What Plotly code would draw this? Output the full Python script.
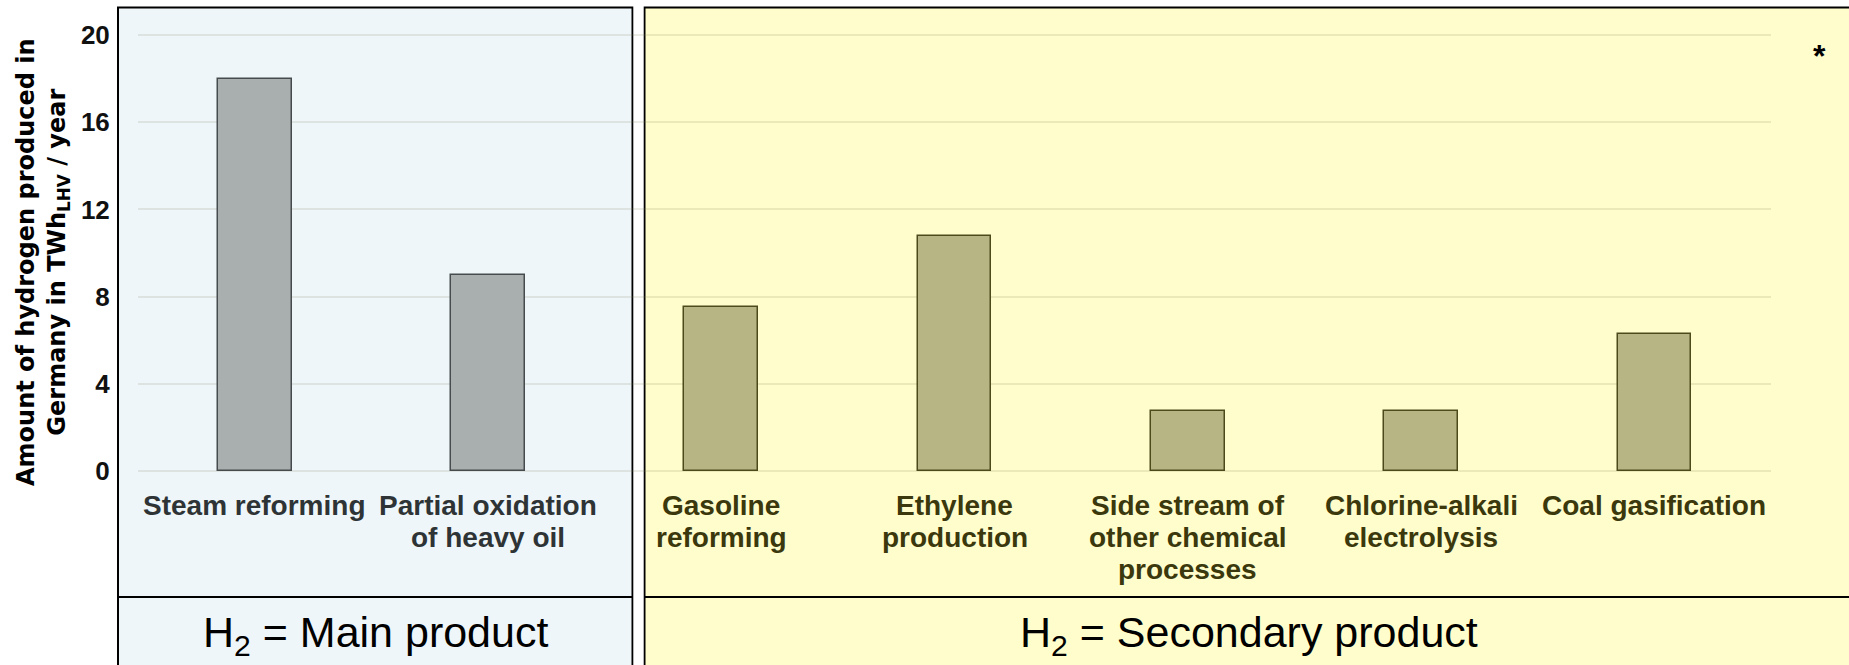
import plotly.graph_objects as go

# ---------------- data ----------------
categories = [
    "Steam reforming",
    "Partial oxidation of heavy oil",
    "Gasoline reforming",
    "Ethylene production",
    "Side stream of other chemical processes",
    "Chlorine-alkali electrolysis",
    "Coal gasification",
]
label_lines = [
    ["Steam reforming"],
    ["Partial oxidation", "of heavy oil"],
    ["Gasoline", "reforming"],
    ["Ethylene", "production"],
    ["Side stream of", "other chemical", "processes"],
    ["Chlorine-alkali", "electrolysis"],
    ["Coal gasification"],
]
values = [18.0, 9.0, 7.5, 10.8, 2.75, 2.75, 6.3]
groups = ["main", "main", "secondary", "secondary", "secondary", "secondary", "secondary"]
y_ticks = [0, 4, 8, 12, 16, 20]
group_titles = {"main": "H<sub>2</sub> = Main product",
                "secondary": "H<sub>2</sub> = Secondary product"}

# ---------------- styles ----------------
W, H = 1849, 665
ML, MR, MT, MB = 138, 78, 33, 192
PW, PH = W - ML - MR, H - MT - MB

def px(X):
    return (X - ML) / PW

def py(Y):
    return (H - MB - Y) / PH

fill = {"main": "#A9AEAF", "secondary": "#B8B585"}
edge = {"main": "#464C4D", "secondary": "#4C4A1C"}
txtc = {"main": "#2E3436", "secondary": "#3A380C"}
bg = {"main": "#EFF6F9", "secondary": "#FFFDCB"}
BOLD = "Liberation Sans, Arial, sans-serif"

fig = go.Figure()
fig.add_trace(go.Bar(
    x=categories, y=values, width=0.316,
    marker=dict(color=[fill[g] for g in groups],
                line=dict(color=[edge[g] for g in groups], width=1.5)),
    hoverinfo="x+y", showlegend=False,
))

shapes = []
shapes.append(dict(type="rect", xref="paper", yref="paper", layer="below",
                   x0=px(118), x1=px(632.5), y0=py(680), y1=py(7.5),
                   fillcolor=bg["main"], line=dict(color="black", width=2)))
shapes.append(dict(type="rect", xref="paper", yref="paper", layer="below",
                   x0=px(644.5), x1=px(1860), y0=py(680), y1=py(7.5),
                   fillcolor=bg["secondary"], line=dict(color="black", width=2)))
shapes.append(dict(type="line", xref="paper", yref="paper", layer="above",
                   x0=px(118), x1=px(632.5), y0=py(597), y1=py(597),
                   line=dict(color="black", width=2)))
shapes.append(dict(type="line", xref="paper", yref="paper", layer="above",
                   x0=px(644.5), x1=px(1860), y0=py(597), y1=py(597),
                   line=dict(color="black", width=2)))
shapes.append(dict(type="rect", xref="paper", yref="paper", layer="between",
                   x0=px(633.6), x1=px(643.4), y0=py(680), y1=py(6),
                   fillcolor="white", line=dict(width=0)))

annotations = []
for cat, lines, g in zip(categories, label_lines, groups):
    for k, t in enumerate(lines):
        annotations.append(dict(
            x=cat, xref="x", y=py(505 + 32 * k), yref="paper",
            yanchor="middle", xanchor="center", text=t, showarrow=False,
            font=dict(family=BOLD, size=28, color=txtc[g], weight="bold")))

annotations.append(dict(x=px(375.3), y=py(635), xref="paper", yref="paper",
                        xanchor="center", yanchor="middle",
                        text=group_titles["main"], showarrow=False,
                        font=dict(family="Liberation Sans, Arial", size=43, color="black")))
annotations.append(dict(x=px(1249), y=py(635), xref="paper", yref="paper",
                        xanchor="center", yanchor="middle",
                        text=group_titles["secondary"], showarrow=False,
                        font=dict(family="Liberation Sans, Arial", size=43, color="black")))
annotations.append(dict(x=px(1819.7), y=py(56), xref="paper", yref="paper",
                        xanchor="center", yanchor="middle", text="*", showarrow=False,
                        font=dict(family=BOLD, size=32, color="black", weight="bold")))
annotations.append(dict(x=px(43), y=py(262), xref="paper", yref="paper",
                        xanchor="center", yanchor="middle", textangle=-90,
                        text="Amount of hydrogen produced in<br>Germany in TWh<sub>LHV</sub> / year",
                        showarrow=False,
                        font=dict(family="DejaVu Sans", size=24, color="black", weight="bold")))

fig.update_layout(
    width=W, height=H,
    margin=dict(l=ML, r=MR, t=MT, b=MB, pad=0),
    paper_bgcolor="white", plot_bgcolor="rgba(0,0,0,0)",
    shapes=shapes, annotations=annotations,
    bargap=0, showlegend=False,
    xaxis=dict(type="category", categoryorder="array", categoryarray=categories,
               range=[-0.5, len(categories) - 0.5], showticklabels=False,
               showgrid=False, zeroline=False, showline=False, ticks=""),
    yaxis=dict(range=[-0.1, 20.1], tickvals=y_ticks, showgrid=True,
               gridcolor="rgba(120,120,80,0.15)", gridwidth=1.5, zeroline=False,
               showline=False, ticks="outside", ticklen=22, tickcolor="rgba(0,0,0,0)",
               tickfont=dict(family=BOLD, size=26, color="#111111", weight="bold")),
)

fig.write_html("out.html", config={"displayModeBar": False},
               post_script="document.body.style.margin='0';")
